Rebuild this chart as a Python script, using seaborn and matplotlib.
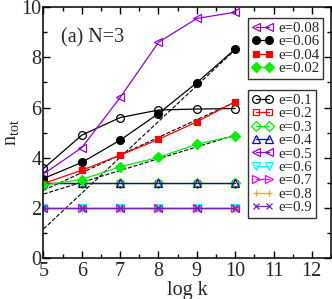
import matplotlib
matplotlib.use("Agg")
import matplotlib.pyplot as plt
import seaborn as sns
from matplotlib.ticker import MultipleLocator

# data
log_k = [5, 6, 7, 8, 9, 10]

small_e = ['e=0.08', 'e=0.06', 'e=0.04', 'e=0.02']
n_small = [
    [3.35, 4.40, 6.40, 8.60, 9.55, 9.80],
    [3.17, 3.81, 4.70, 5.76, 6.99, 8.33],
    [2.97, 3.50, 4.10, 4.73, 5.43, 6.23],
    [2.91, 3.13, 3.64, 4.01, 4.54, 4.87],
]

large_e = ['e=0.1', 'e=0.2', 'e=0.3', 'e=0.4', 'e=0.5',
           'e=0.6', 'e=0.7', 'e=0.8', 'e=0.9']
n_large = [
    [3.57, 4.90, 5.60, 5.90, 5.94, 5.96],
    [3, 3, 3, 3, 3, 3],
    [3, 3, 3, 3, 3, 3],
    [3, 3, 3, 3, 3, 3],
    [2, 2, 2, 2, 2, 2],
    [2, 2, 2, 2, 2, 2],
    [2, 2, 2, 2, 2, 2],
    [2, 2, 2, 2, 2, 2],
    [2, 2, 2, 2, 2, 2],
]

# dashed fits, end points at log k = 5 and 10
fit_x = [5, 10]
fits = [
    [1.16, 8.30],
    [2.70, 6.22],
    [2.55, 4.90],
]

small_style = [
    ('#9400d3', '<', False),
    ('black', 'o', True),
    ('red', 's', True),
    ('#00ee00', 'D', True),
]
large_style = [
    ('black', 'o', False),
    ('red', 's', False),
    ('#00ee00', 'D', False),
    ('blue', '^', False),
    ('#9400d3', '<', False),
    ('cyan', 'v', False),
    ('magenta', '>', False),
    ('orange', '+', False),
    ('#7221bc', 'x', False),
]

sns.set_style("ticks")
plt.rcParams['font.family'] = ['Liberation Serif', 'DejaVu Serif']
plt.rcParams['mathtext.fontset'] = 'custom'
plt.rcParams['mathtext.rm'] = 'Liberation Serif'
plt.rcParams['mathtext.it'] = 'Liberation Serif:italic'

fig = plt.figure(figsize=(3.32, 2.99), dpi=100)
ax = fig.add_axes([0.131, 0.137, 0.866, 0.839])


def draw(name, ys, style):
    col, mk, filled = style
    ms = 5.6
    if mk in ('+', 'x'):
        ms = 5.0
    if mk == 'D':
        ms = 4.8
    if mk == 's':
        ms = 5.0
    sns.lineplot(x=log_k, y=ys, ax=ax, color=col, lw=0.9, marker=mk,
                 markersize=ms, markeredgecolor=col, markeredgewidth=0.9,
                 markerfacecolor=col if filled else 'none', label=name)


for fx in fits:
    sns.lineplot(x=fit_x, y=fx, ax=ax, color='black', lw=0.8,
                 dashes=(3, 2), linestyle='--')

for name, ys, st in zip(large_e, n_large, large_style):
    draw(name, ys, st)
for name, ys, st in zip(small_e, n_small, small_style):
    draw(name, ys, st)

ax.set_xlim(5, 12.5)
ax.set_ylim(0, 10)
ax.xaxis.set_major_locator(MultipleLocator(1))
ax.xaxis.set_minor_locator(MultipleLocator(0.5))
ax.yaxis.set_major_locator(MultipleLocator(2))
ax.yaxis.set_minor_locator(MultipleLocator(1))
ax.tick_params(which='both', direction='in', top=True, right=True,
               labelsize=14.5, width=1, color='black')
ax.tick_params(which='major', length=5)
ax.tick_params(which='minor', length=3)
ax.tick_params(axis='x', pad=3.2)
ax.tick_params(axis='y', pad=1.5)
for sp in ax.spines.values():
    sp.set_linewidth(1.1)
    sp.set_color('black')

ax.set_xlabel('log k', fontsize=14.5)
ax.xaxis.set_label_coords(0.5, -0.09)
ax.set_ylabel(r'$\mathregular{n_{tot}}$', fontsize=14.5)
ax.yaxis.set_label_coords(-0.078, 0.5)
ax.text(0.06, 0.859, '(a) N=3', transform=ax.transAxes, fontsize=14.5,
        va='baseline', ha='left')

handles, labels = ax.get_legend_handles_labels()
hmap = dict(zip(labels, handles))

leg_kw = dict(loc='upper left', frameon=True, fancybox=False, fontsize=10.7,
              numpoints=2, handlelength=1.45, handletextpad=0.35,
              labelspacing=0.0, borderpad=0.25, borderaxespad=0,
              framealpha=1, edgecolor='#333333')
leg1 = ax.legend([hmap[k] for k in small_e], small_e,
                 bbox_to_anchor=(0.711, 0.957), **leg_kw)
leg1.get_frame().set_linewidth(1.0)
ax.add_artist(leg1)
leg2 = ax.legend([hmap[k] for k in large_e], large_e,
                 bbox_to_anchor=(0.711, 0.670), **leg_kw)
leg2.get_frame().set_linewidth(1.0)

fig.savefig('out.png', dpi=100)
